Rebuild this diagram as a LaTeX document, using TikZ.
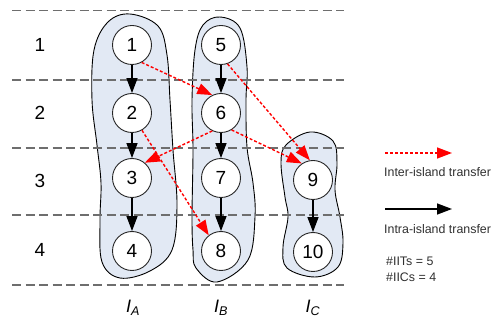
\documentclass[tikz,border=0pt]{standalone}
\usepackage{fontspec}
\setmainfont{Liberation Sans}
\usetikzlibrary{arrows.meta}
\definecolor{islandfill}{HTML}{E2E9F4}
\definecolor{gridgray}{HTML}{6E6E6E}
\definecolor{legendtext}{HTML}{303030}
\begin{document}
\begin{tikzpicture}[x=1pt,y=-1pt,
  island/.style={draw=black, line width=0.9pt, fill=islandfill},
  gridline/.style={draw=gridgray, line width=1.6pt, dash pattern=on 9pt off 4.5pt},
  state/.style={circle, draw=black!85, fill=white, line width=0.9pt, minimum size=39pt, inner sep=0pt, font=\fontsize{19}{19}\selectfont},
  rowlab/.style={font=\fontsize{19}{19}\selectfont},
  collab/.style={font=\fontsize{18}{18}\selectfont\itshape},
  intra/.style={draw=black, line width=1.4pt, -{Triangle[length=15pt,width=11pt]}},
  inter/.style={draw=red, line width=1.4pt, dash pattern=on 3pt off 2pt, -{Triangle[length=15pt,width=11pt]}},
  legtext/.style={font=\fontsize{12.4}{12.4}\selectfont, text=legendtext, anchor=west, inner sep=0pt}
]
\useasboundingbox (0,0) rectangle (493,320);

% islands
\path[island] plot[smooth cycle, tension=0.6] coordinates {(130,14) (158,26) (167,55) (170,100) (173,150) (177,205) (172,250) (150,271) (120,278) (102,262) (100,220) (101,183) (97,145) (92,100) (94,50) (108,22)};
\path[island] plot[smooth cycle, tension=0.6] coordinates {(220,17) (240,28) (247,67) (246,100) (247,147) (253,183) (255,217) (248,260) (217,282) (196,268) (193,250) (192,217) (193,150) (192,100) (195,50) (203,25)};
\path[island] plot[smooth cycle, tension=0.6] coordinates {(310,132) (333,141) (337,163) (335,190) (340,217) (343,243) (338,267) (315,277) (287,268) (283,247) (288,217) (285,197) (281,163) (286,145)};

% grid lines
\foreach \yy in {10.7,80,148,215,285} {
  \draw[gridline] (12,\yy) -- (344,\yy);
}

% row labels
\node[rowlab] (r1) at (40,45) {1};
\node[rowlab] (r2) at (40,113) {2};
\node[rowlab] (r3) at (40,181) {3};
\node[rowlab] (r4) at (40,250) {4};

% nodes
\node[state] (n1) at (132,45) {1};
\node[state] (n2) at (132,113) {2};
\node[state] (n3) at (132,178) {3};
\node[state] (n4) at (132,251) {4};
\node[state] (n5) at (221,45) {5};
\node[state] (n6) at (221,113) {6};
\node[state] (n7) at (221,178) {7};
\node[state] (n8) at (221,251) {8};
\node[state] (n9) at (313,180) {9};
\node[state] (n10) at (313,252) {10};

% intra-island transfers
\draw[intra] (n1) -- (n2);
\draw[intra] (n2) -- (n3);
\draw[intra] (n3) -- (n4);
\draw[intra] (n5) -- (n6);
\draw[intra] (n6) -- (n7);
\draw[intra] (n7) -- (n8);
\draw[intra] (n9) -- (n10);

% inter-island transfers
\draw[inter] (n1.-61) -- (n6.116);
\draw[inter] (n5.-71) -- (n9.99);
\draw[inter] (n6.-116) -- (n3.50);
\draw[inter] (n6.-58) -- (n9.124);
\draw[inter] (n2.-60) -- (n8.128);

% column labels
\node[collab] (la) at (133,308) {I\textsubscript{A}};
\node[collab] (lb) at (221,308) {I\textsubscript{B}};
\node[collab] (lc) at (313,308) {I\textsubscript{C}};

% legend
\coordinate (lr1) at (385,153);
\coordinate (lr2) at (452,153);
\draw[inter] (lr1) -- (lr2);
\node[legtext] (t1) at (384,172) {Inter-island transfer};
\coordinate (lb1) at (385,209);
\coordinate (lb2) at (452,209);
\draw[intra] (lb1) -- (lb2);
\node[legtext] (t2) at (384,229) {Intra-island transfer};
\node[legtext] (t3) at (386,261) {\#IITs = 5};
\node[legtext] (t4) at (386,277) {\#IICs = 4};
\end{tikzpicture}
\end{document}
